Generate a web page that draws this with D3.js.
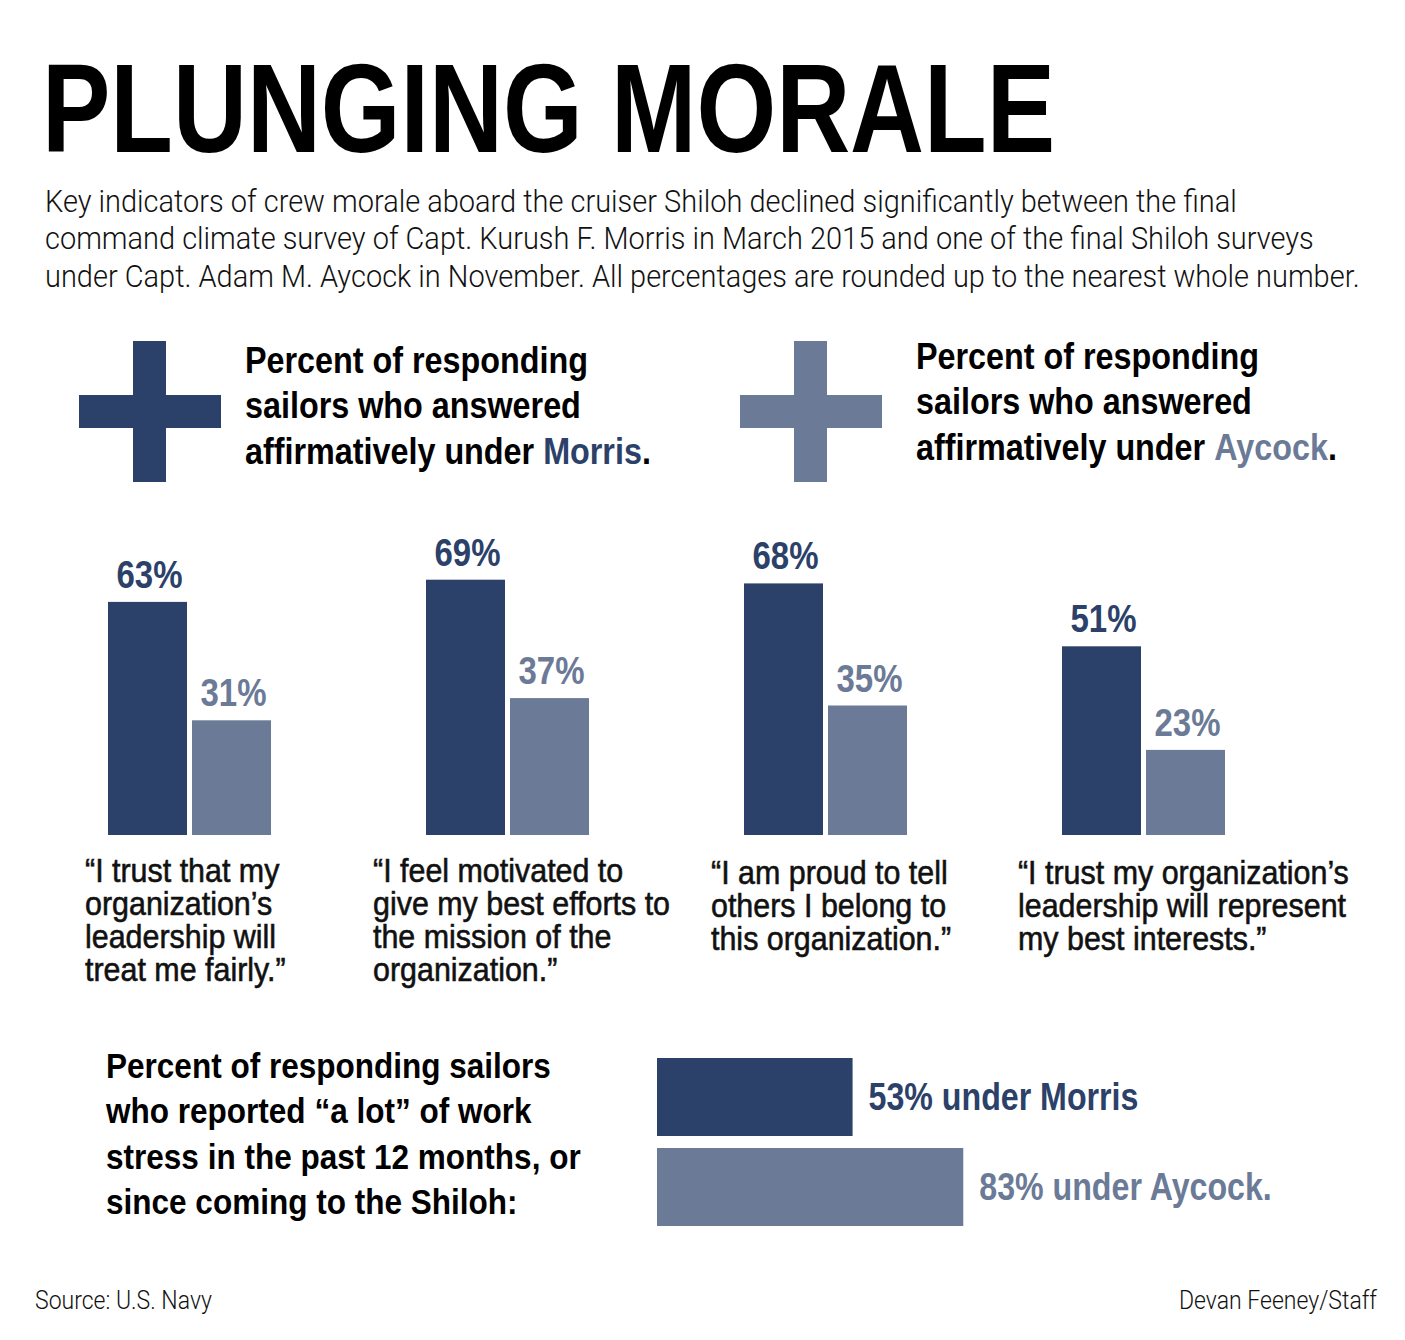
<!DOCTYPE html>
<html>
<head>
<meta charset="utf-8">
<script src="https://cdn.jsdelivr.net/npm/d3@7"></script>
<style>
  body { margin: 0; background: #fff; }
</style>
</head>
<body>
<script>
const captains = ["Morris", "Aycock"];
const morrisValues = [63, 69, 68, 51];
const aycockValues = [31, 37, 35, 23];
const statements = [
  ["\u201CI trust that my", "organization\u2019s", "leadership will", "treat me fairly.\u201D"],
  ["\u201CI feel motivated to", "give my best efforts to", "the mission of the", "organization.\u201D"],
  ["\u201CI am proud to tell", "others I belong to", "this organization.\u201D"],
  ["\u201CI trust my organization\u2019s", "leadership will represent", "my best interests.\u201D"]
];
const stressValues = [53, 83];

const subtitleLines = [
  "Key indicators of crew morale aboard the cruiser Shiloh declined significantly between the final",
  "command climate survey of Capt. Kurush F. Morris in March 2015 and one of the final Shiloh surveys",
  "under Capt. Adam M. Aycock in November. All percentages are rounded up to the nearest whole number."
];
const stressLines = [
  "Percent of responding sailors",
  "who reported \u201Ca lot\u201D of work",
  "stress in the past 12 months, or",
  "since coming to the Shiloh:"
];

const colors = { Morris: "#2c4169", Aycock: "#6b7a96" };
const FONT = "'Liberation Sans', Arial, Helvetica, sans-serif";
const LIGHT = "Roboto, 'Liberation Sans', Arial, sans-serif";

const svg = d3
  .select("body")
  .append("svg")
  .attr("width", 1405)
  .attr("height", 1340);

svg.append("rect").attr("width", 1405).attr("height", 1340).attr("fill", "#fff");

// measure a string so each text style can be squeezed to the condensed look
function scaleFor(s) {
  const t = svg
    .append("text")
    .attr("font-size", s.size)
    .attr("font-weight", s.weight)
    .attr("font-family", s.family)
    .text(s.ref[0]);
  const w = t.node().getComputedTextLength();
  t.remove();
  return s.ref[1] / w;
}

const styles = {
  sub: { size: 32, weight: 300, family: LIGHT, ref: [subtitleLines[2], 1315] },
  head: { size: 36, weight: 700, family: FONT, ref: ["affirmatively under Morris.", 406] },
  value: { size: 39, weight: 700, family: FONT, ref: ["63%", 66] },
  quote: { size: 34, weight: 400, family: FONT, stroke: 0.6, ref: ["\u201CI trust my organization\u2019s", 331] },
  stress: { size: 36, weight: 700, family: FONT, ref: ["Percent of responding sailors", 445] },
  bar: { size: 38, weight: 700, family: FONT, ref: ["53% under Morris", 270] },
  foot: { size: 26, weight: 300, family: LIGHT, ref: ["Source: U.S. Navy", 177] }
};
Object.values(styles).forEach((s) => (s.sx = scaleFor(s)));

// draw a block of lines; a line may be a string or a list of coloured pieces
function block(x, y, lines, style, lh, opts = {}) {
  const g = svg
    .append("g")
    .attr("transform", `translate(${x},${y}) scale(${style.sx},1)`);
  lines.forEach((line, i) => {
    const segs = typeof line === "string" ? [{ t: line }] : line;
    const fill = opts.fill || "#000";
    const text = g
      .append("text")
      .attr("y", i * lh)
      .attr("font-size", style.size)
      .attr("font-weight", style.weight)
      .attr("font-family", style.family)
      .attr("text-anchor", opts.anchor || "start")
      .attr("fill", fill);
    if (style.stroke) text.attr("stroke", fill).attr("stroke-width", style.stroke);
    segs.forEach((s) => text.append("tspan").attr("fill", s.c || null).text(s.t));
  });
  return g;
}

// title
svg
  .append("text")
  .attr("x", 42)
  .attr("y", 152)
  .attr("font-size", 126)
  .attr("font-weight", 700)
  .attr("font-family", FONT)
  .attr("textLength", 1013)
  .attr("lengthAdjust", "spacingAndGlyphs")
  .text("PLUNGING MORALE");

block(45, 212, subtitleLines, styles.sub, 37.5, { fill: "#111" });

// plus signs and legend headers
function plus(x, fill) {
  svg.append("rect").attr("x", x + 54).attr("y", 341).attr("width", 33).attr("height", 141).attr("fill", fill);
  svg.append("rect").attr("x", x).attr("y", 395).attr("width", 142).attr("height", 33).attr("fill", fill);
}
plus(79, colors.Morris);
plus(740, colors.Aycock);

captains.forEach((c, k) => {
  block(
    k ? 916 : 245,
    k ? 369 : 373,
    [
      "Percent of responding",
      "sailors who answered",
      [{ t: "affirmatively under " }, { t: c, c: colors[c] }, { t: "." }]
    ],
    styles.head,
    45.5
  );
});

// grouped vertical bars
const x0 = d3.scaleBand().domain(d3.range(4)).range([108, 1225]).paddingInner(0.4874);
const x1 = d3.scaleBand().domain(captains).range([0, x0.bandwidth()]).paddingInner(0.0595);
const y = d3.scaleLinear().domain([0, 100]).range([835, 465]);

const rows = d3.range(4).map((i) =>
  captains.map((c, k) => ({ i, c, v: k ? aycockValues[i] : morrisValues[i] }))
);

svg
  .append("g")
  .selectAll("g")
  .data(rows)
  .join("g")
  .attr("transform", (d) => `translate(${x0(d[0].i)},0)`)
  .selectAll("rect")
  .data((d) => d)
  .join("rect")
  .attr("x", (d) => x1(d.c))
  .attr("y", (d) => y(d.v))
  .attr("width", x1.bandwidth())
  .attr("height", (d) => y(0) - y(d.v))
  .attr("fill", (d) => colors[d.c]);

rows.flat().forEach((d) => {
  block(x0(d.i) + x1(d.c) + x1.bandwidth() / 2 + 2, y(d.v) - 14, [`${d.v}%`], styles.value, 0, {
    anchor: "middle",
    fill: colors[d.c]
  });
});

// statements under each pair
const quoteDx = [-23, -53, -33, -44];
statements.forEach((lines, i) => {
  block(x0(i) + quoteDx[i], i < 2 ? 882 : 884, lines, styles.quote, 33, { fill: "#111" });
});

// work stress section
block(106, 1078, stressLines, styles.stress, 45.5);

const xs = d3.scaleLinear().domain([0, 100]).range([657, 1026]);
const ys = d3.scaleBand().domain(captains).range([1058, 1226]).paddingInner(0.1333);

svg
  .append("g")
  .selectAll("rect")
  .data(captains.map((c, k) => ({ c, v: stressValues[k] })))
  .join("rect")
  .attr("x", xs(0))
  .attr("y", (d) => ys(d.c))
  .attr("width", (d) => xs(d.v) - xs(0))
  .attr("height", ys.bandwidth())
  .attr("fill", (d) => colors[d.c]);

captains.forEach((c, k) => {
  const v = stressValues[k];
  block(xs(v) + 16, ys(c) + ys.bandwidth() / 2 + 13, [`${v}% under ${c}${k ? "." : ""}`], styles.bar, 0, {
    fill: colors[c]
  });
});

// footer
block(35, 1309, ["Source: U.S. Navy"], styles.foot, 0, { fill: "#111" });
block(1377, 1309, ["Devan Feeney/Staff"], styles.foot, 0, { anchor: "end", fill: "#111" });
</script>
</body>
</html>
